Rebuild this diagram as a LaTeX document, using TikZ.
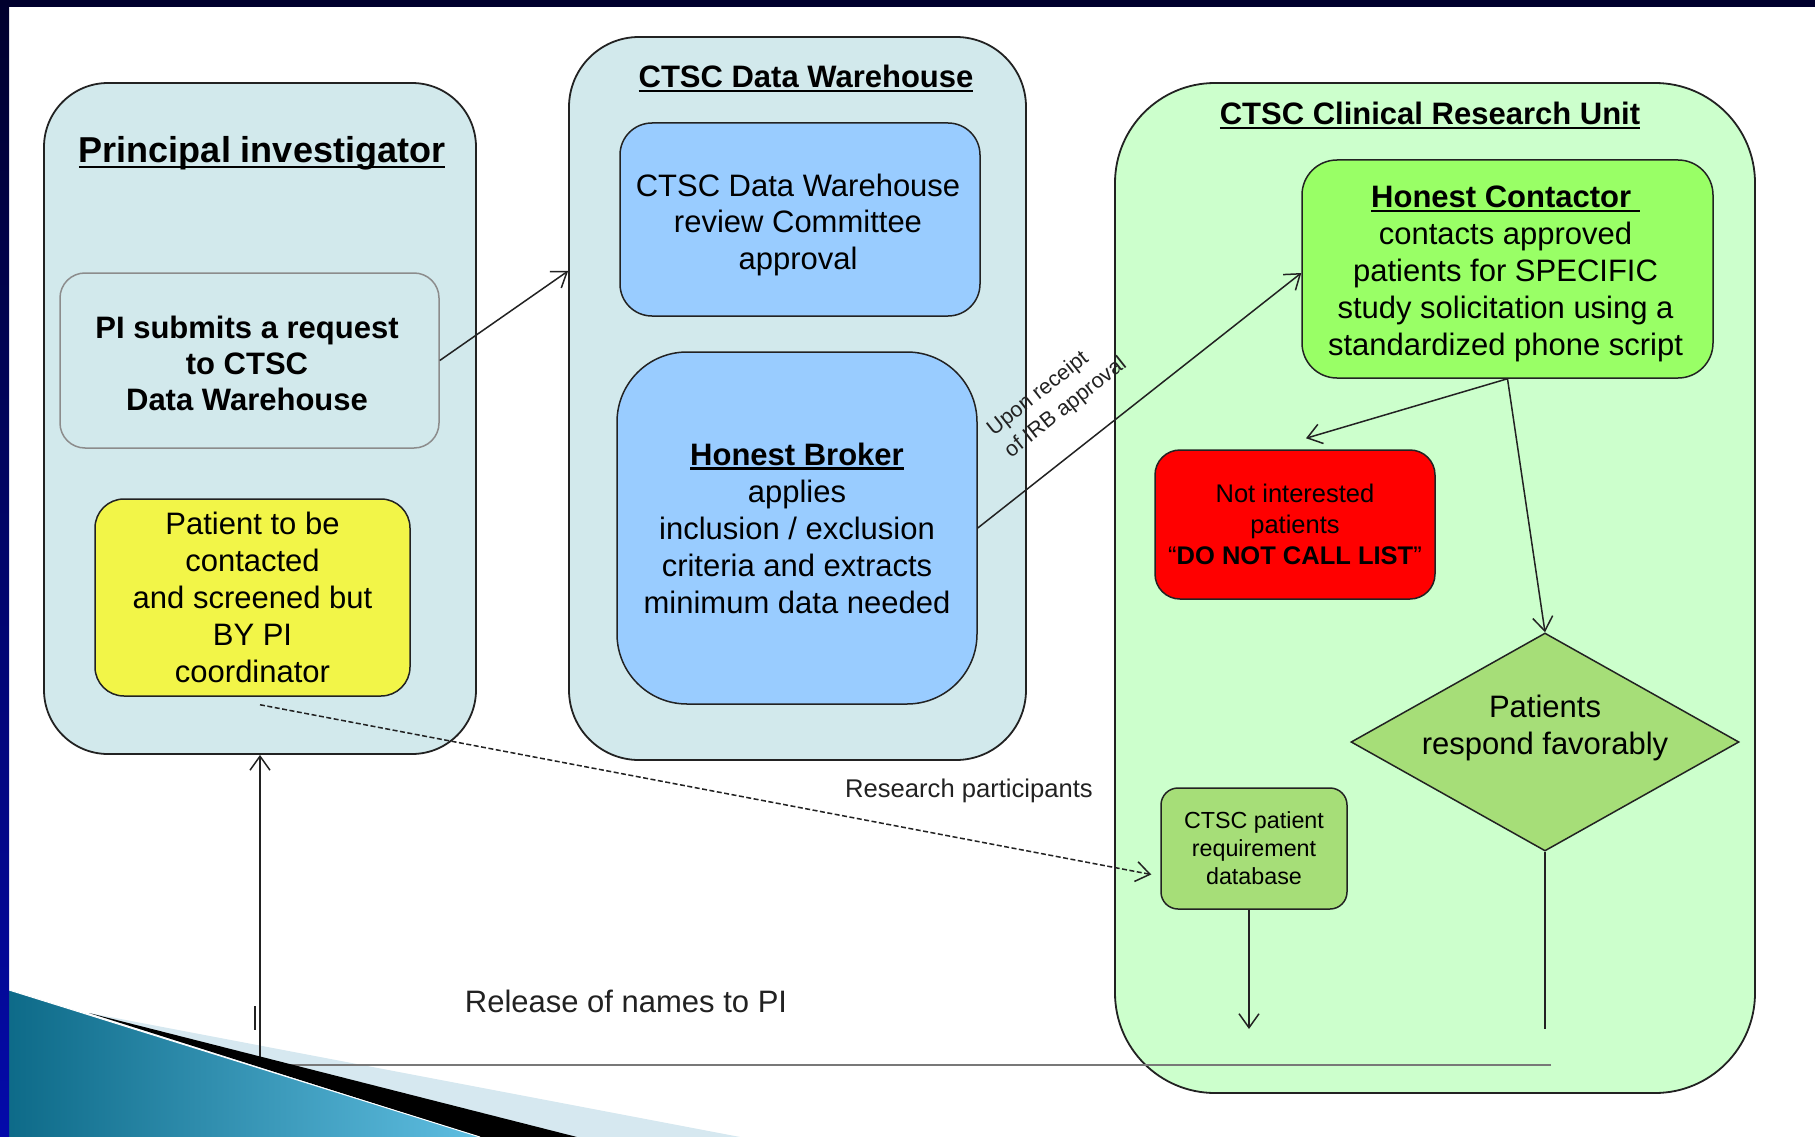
\documentclass[tikz,border=0pt]{standalone}
\usepackage{fontspec}
\setmainfont{Liberation Sans}
\usetikzlibrary{arrows.meta,shapes.geometric}

\definecolor{panelblue}{RGB}{210,233,236}
\definecolor{crugreen}{RGB}{204,255,204}
\definecolor{skyblue}{RGB}{153,204,255}
\definecolor{limegreen}{RGB}{153,255,102}
\definecolor{leafgreen}{RGB}{166,222,120}
\definecolor{alertred}{RGB}{255,0,0}
\definecolor{noteyellow}{RGB}{242,245,72}
\definecolor{inkgray}{RGB}{34,34,34}
\definecolor{softgray}{RGB}{140,140,140}
\definecolor{railgray}{RGB}{120,120,120}
\definecolor{navytop}{RGB}{0,0,45}
\definecolor{barblue}{RGB}{4,10,170}
\definecolor{tealdark}{RGB}{12,105,135}
\definecolor{teallight}{RGB}{95,190,225}
\definecolor{palecyan}{RGB}{214,232,240}

% font size shortcut and a heavy underline
\newcommand\fsz[2]{\fontsize{#1}{#2}\selectfont}
\newcommand\ulin[1]{\setbox0\hbox{#1}\rlap{\rule[-0.145em]{\wd0}{0.075em}}\box0}

\begin{document}
\begin{tikzpicture}[x=1pt,y=-1pt,
  panel/.style={draw=inkgray, line width=1.8pt, rounded corners=#1, inner sep=0pt},
  box/.style={draw=inkgray, line width=1.5pt, rounded corners=#1, align=center,
              inner sep=0pt, text=black},
  boxtext/.style={align=center, inner sep=0pt, text=black},
  title/.style={font=\fsz{31}{36}\bfseries, anchor=base, text=black},
  conn/.style={draw=inkgray, line width=1.5pt},
  arr/.style={conn, -{Straight Barb[length=14pt,width=20pt,line width=1.5pt]}},
  dasharr/.style={arr, dash pattern=on 5pt off 2.5pt},
  note/.style={text=inkgray, align=center}
]
\useasboundingbox (0,0) rectangle (1815,1137);
\fill[white] (0,0) rectangle (1815,1137);
% pale band of the slide corner, lying under the drawing
\fill[palecyan] (89,1013) -- (740,1137) -- (480,1137) -- cycle;

% ---------- Principal investigator ----------
\node[panel=64, fill=panelblue, minimum width=432pt, minimum height=671pt] (pi) at (260,418.5) {};
\node[title, font=\fsz{36}{40}\bfseries] (pititle) at (262,163) {\ulin{Principal investigator}};
\node[box=25, draw=softgray, fill=panelblue, minimum width=379pt, minimum height=175pt] (pisub) at (249.5,360.5) {};
\node[boxtext, font=\fsz{31}{36}\bfseries] (pisubtext) at (247,363.5)
      {PI submits a request\\to CTSC\\Data Warehouse};
\node[box=29, fill=noteyellow, minimum width=315pt, minimum height=197pt,
      font=\fsz{31}{37}] (ybox) at (252.5,597.5)
      {Patient to be\\contacted\\and screened but\\BY PI\\coordinator};

% ---------- CTSC Data Warehouse ----------
\node[panel=70, fill=panelblue, minimum width=457pt, minimum height=723pt] (dw) at (797.5,398.5) {};
\node[title] (dwtitle) at (806,88) {\ulin{CTSC Data Warehouse}};
\node[box=32, fill=skyblue, minimum width=360pt, minimum height=193pt] (review) at (800,219.5) {};
\node[boxtext, font=\fsz{31}{36.5}] (reviewtext) at (798,224.5)
      {CTSC Data Warehouse\\review Committee\\approval};
\node[box=70, fill=skyblue, minimum width=360pt, minimum height=352pt,
      font=\fsz{31}{37}] (broker) at (797,528)
      {\textbf{\ulin{Honest Broker}}\\applies\\inclusion / exclusion\\criteria and extracts\\minimum data needed};

% ---------- CTSC Clinical Research Unit ----------
\node[panel=100, fill=crugreen, minimum width=640pt, minimum height=1010pt] (cru) at (1435,588) {};
\node[title] (crutitle) at (1430,125) {\ulin{CTSC Clinical Research Unit}};
\node[box=35, fill=limegreen, minimum width=411pt, minimum height=218pt] (hc) at (1507.5,269) {};
\node[boxtext, font=\fsz{31}{37}] (hctext) at (1505.5,274)
      {\textbf{\ulin{Honest Contactor\ }}\\contacts approved\\patients for SPECIFIC\\study solicitation using a\\standardized phone script};
\node[box=25, fill=alertred, minimum width=280pt, minimum height=149pt,
      font=\fsz{25.5}{31}] (red) at (1295,524.5)
      {Not interested\\patients\\“\textbf{DO NOT CALL LIST}”};
\node[diamond, draw=inkgray, line width=1.5pt, fill=leafgreen, inner sep=0pt,
      minimum width=388pt, minimum height=218pt] (resp) at (1545,742) {};
\node[boxtext, font=\fsz{31}{37}] (resptext) at (1545,727.5)
      {Patients\\respond favorably};
\node[box=17, fill=leafgreen, minimum width=186pt, minimum height=121pt,
      font=\fsz{23.3}{28}] (db) at (1254,848.5)
      {CTSC patient\\requirement\\database};

% ---------- connectors ----------
\draw[arr] (pisub.east) -- (dw.west |- 0,271);
\draw[arr] (broker.east) --
   node[sloped, pos=0.167, anchor=south west, inner xsep=0pt, inner ysep=29pt,
        text=inkgray, align=left, font=\fsz{21.5}{28}] (irb)
   {Upon receipt\\of IRB approval}
   (hc.west |- 0,273);
\draw[arr] (hc.south) -- ([xshift=11pt,yshift=11pt]red.north);
\draw[arr] (hc.south) -- (resp.north);

\coordinate (respend) at (1545,1029);
\draw[conn] (resp.south) -- (respend);
\coordinate (dbend) at (1249,1029);
\draw[arr] ([xshift=-5pt]db.south) -- (dbend);

\draw[dasharr] ([xshift=7.5pt,yshift=-8pt]ybox.south) -- ([xshift=-9pt,yshift=-26pt]db.west);
\node[note, font=\fsz{25.6}{30}] (rp) at (969,791) {Research participants};

\coordinate (relR) at (1551,1065);
\coordinate (relL) at (260,1065);
\draw[railgray, line width=2.5pt] (relR) -- (relL);
\draw[arr] (relL) -- (pi.south);
\node[note, font=\fsz{31}{36}] (rel) at (626,1001) {Release of names to PI};
\draw[inkgray, line width=2pt] (254.5,1006) -- (254.5,1030);

% ---------- slide frame decoration ----------
\fill[black] (89,1013) -- (577,1137) -- (480,1137) -- cycle;
\shade[left color=tealdark, right color=teallight] (0,987) -- (9,990) -- (480,1137) -- (0,1137) -- cycle;
\draw[white, line width=1pt] (9,990) -- (480,1137);
\fill[navytop] (0,0) rectangle (1815,7);
\shade[top color=navytop, bottom color=barblue] (0,0) rectangle (9,1137);
\end{tikzpicture}
\end{document}
